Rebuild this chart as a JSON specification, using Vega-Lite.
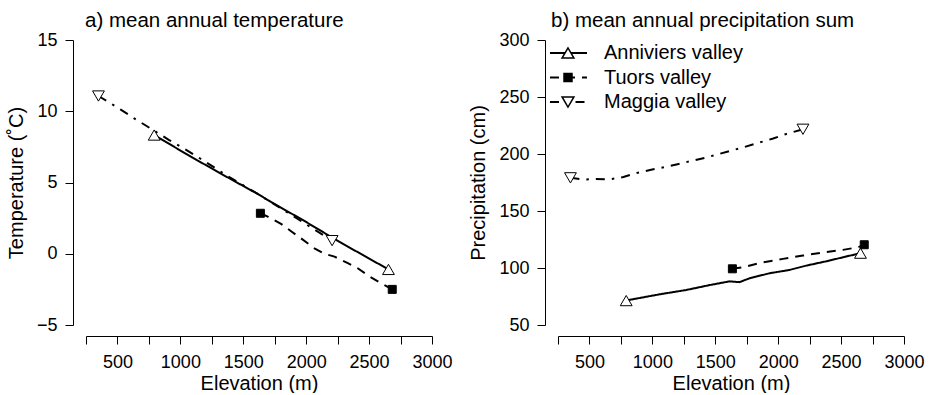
{
  "$schema": "https://vega.github.io/schema/vega-lite/v6.json",
  "padding": {"left": 6, "top": 10, "right": 5, "bottom": 0},
  "spacing": 126,
  "bounds": "flush",
  "config": {
    "font": "Liberation Sans",
    "view": {"stroke": null},
    "axis": {
      "domainColor": "black", "domainWidth": 1,
      "tickColor": "black", "tickWidth": 1, "tickSize": 8,
      "labelColor": "black", "labelFontSize": 18, "labelFont": "Liberation Sans", "labelOverlap": false, "labelFlush": false,
      "titleColor": "black", "titleFontSize": 20, "titleFontWeight": "normal", "titleFont": "Liberation Sans",
      "grid": false
    },
    "axisX": {"labelPadding": 9.5, "titlePadding": 1.5, "offset": 11},
    "axisY": {"labelPadding": 8, "titlePadding": 10, "offset": 13, "labelAngle": 0},
    "title": {"fontSize": 20.5, "fontWeight": "normal", "anchor": "start", "color": "black", "font": "Liberation Sans", "frame": "group"},
    "legend": {"labelFont": "Liberation Sans", "labelColor": "black", "labelFontSize": 20, "padding": 0}
  },
  "datasets": {
    "tempLine": [
      {"valley": "Anniviers valley", "elevation": 792, "value": 8.33},
      {"valley": "Anniviers valley", "elevation": 1057, "value": 6.95},
      {"valley": "Anniviers valley", "elevation": 1322, "value": 5.62},
      {"valley": "Anniviers valley", "elevation": 1614, "value": 4.2},
      {"valley": "Anniviers valley", "elevation": 1720, "value": 3.64},
      {"valley": "Anniviers valley", "elevation": 1986, "value": 2.3},
      {"valley": "Anniviers valley", "elevation": 2251, "value": 0.9},
      {"valley": "Anniviers valley", "elevation": 2654, "value": -1.1},
      {"valley": "Tuors valley", "elevation": 1636, "value": 2.84},
      {"valley": "Tuors valley", "elevation": 1694, "value": 2.6},
      {"valley": "Tuors valley", "elevation": 1800, "value": 2.1},
      {"valley": "Tuors valley", "elevation": 1880, "value": 1.58},
      {"valley": "Tuors valley", "elevation": 1959, "value": 1.08},
      {"valley": "Tuors valley", "elevation": 2066, "value": 0.38},
      {"valley": "Tuors valley", "elevation": 2145, "value": 0.0},
      {"valley": "Tuors valley", "elevation": 2225, "value": -0.2},
      {"valley": "Tuors valley", "elevation": 2331, "value": -0.66},
      {"valley": "Tuors valley", "elevation": 2410, "value": -1.02},
      {"valley": "Tuors valley", "elevation": 2504, "value": -1.6},
      {"valley": "Tuors valley", "elevation": 2623, "value": -2.2},
      {"valley": "Tuors valley", "elevation": 2684, "value": -2.5},
      {"valley": "Maggia valley", "elevation": 349, "value": 11.07},
      {"valley": "Maggia valley", "elevation": 420, "value": 10.7},
      {"valley": "Maggia valley", "elevation": 526, "value": 10.12},
      {"valley": "Maggia valley", "elevation": 633, "value": 9.5},
      {"valley": "Maggia valley", "elevation": 725, "value": 9.0},
      {"valley": "Maggia valley", "elevation": 911, "value": 7.98},
      {"valley": "Maggia valley", "elevation": 1004, "value": 7.51},
      {"valley": "Maggia valley", "elevation": 1177, "value": 6.58},
      {"valley": "Maggia valley", "elevation": 1376, "value": 5.45},
      {"valley": "Maggia valley", "elevation": 1600, "value": 4.28},
      {"valley": "Maggia valley", "elevation": 1946, "value": 2.37},
      {"valley": "Maggia valley", "elevation": 2206, "value": 0.92}
    ],
    "tempStations": [
      {"valley": "Anniviers valley", "elevation": 792, "value": 8.33},
      {"valley": "Anniviers valley", "elevation": 2654, "value": -1.1},
      {"valley": "Tuors valley", "elevation": 1636, "value": 2.84},
      {"valley": "Tuors valley", "elevation": 2684, "value": -2.5},
      {"valley": "Maggia valley", "elevation": 349, "value": 11.07},
      {"valley": "Maggia valley", "elevation": 2206, "value": 0.92}
    ],
    "precipLine": [
      {"valley": "Anniviers valley", "elevation": 792, "value": 71.4},
      {"valley": "Anniviers valley", "elevation": 845, "value": 72.6},
      {"valley": "Anniviers valley", "elevation": 1057, "value": 76.9},
      {"valley": "Anniviers valley", "elevation": 1269, "value": 80.7},
      {"valley": "Anniviers valley", "elevation": 1455, "value": 85.0},
      {"valley": "Anniviers valley", "elevation": 1614, "value": 88.3},
      {"valley": "Anniviers valley", "elevation": 1693, "value": 87.6},
      {"valley": "Anniviers valley", "elevation": 1773, "value": 91.0},
      {"valley": "Anniviers valley", "elevation": 1932, "value": 95.4},
      {"valley": "Anniviers valley", "elevation": 2091, "value": 98.3},
      {"valley": "Anniviers valley", "elevation": 2224, "value": 102.1},
      {"valley": "Anniviers valley", "elevation": 2383, "value": 105.9},
      {"valley": "Anniviers valley", "elevation": 2515, "value": 109.4},
      {"valley": "Anniviers valley", "elevation": 2654, "value": 113.0},
      {"valley": "Tuors valley", "elevation": 1636, "value": 99.3},
      {"valley": "Tuors valley", "elevation": 1720, "value": 100.6},
      {"valley": "Tuors valley", "elevation": 1879, "value": 105.0},
      {"valley": "Tuors valley", "elevation": 2038, "value": 108.0},
      {"valley": "Tuors valley", "elevation": 2197, "value": 110.9},
      {"valley": "Tuors valley", "elevation": 2356, "value": 113.6},
      {"valley": "Tuors valley", "elevation": 2515, "value": 115.9},
      {"valley": "Tuors valley", "elevation": 2634, "value": 118.2},
      {"valley": "Tuors valley", "elevation": 2684, "value": 120.4},
      {"valley": "Maggia valley", "elevation": 349, "value": 179.1},
      {"valley": "Maggia valley", "elevation": 450, "value": 177.6},
      {"valley": "Maggia valley", "elevation": 550, "value": 178.0},
      {"valley": "Maggia valley", "elevation": 660, "value": 177.8},
      {"valley": "Maggia valley", "elevation": 770, "value": 179.8},
      {"valley": "Maggia valley", "elevation": 870, "value": 183.2},
      {"valley": "Maggia valley", "elevation": 990, "value": 186.2},
      {"valley": "Maggia valley", "elevation": 1100, "value": 188.6},
      {"valley": "Maggia valley", "elevation": 1200, "value": 191.0},
      {"valley": "Maggia valley", "elevation": 1310, "value": 193.9},
      {"valley": "Maggia valley", "elevation": 1415, "value": 196.6},
      {"valley": "Maggia valley", "elevation": 1520, "value": 199.7},
      {"valley": "Maggia valley", "elevation": 1630, "value": 203.1},
      {"valley": "Maggia valley", "elevation": 1735, "value": 206.2},
      {"valley": "Maggia valley", "elevation": 1840, "value": 209.7},
      {"valley": "Maggia valley", "elevation": 1960, "value": 213.6},
      {"valley": "Maggia valley", "elevation": 2065, "value": 217.6},
      {"valley": "Maggia valley", "elevation": 2197, "value": 221.7}
    ],
    "precipStations": [
      {"valley": "Anniviers valley", "elevation": 792, "value": 71.4},
      {"valley": "Anniviers valley", "elevation": 2654, "value": 113.0},
      {"valley": "Tuors valley", "elevation": 1636, "value": 99.3},
      {"valley": "Tuors valley", "elevation": 2684, "value": 120.4},
      {"valley": "Maggia valley", "elevation": 349, "value": 179.1},
      {"valley": "Maggia valley", "elevation": 2197, "value": 221.7}
    ]
  },
  "resolve": {"scale": {"strokeDash": "independent", "shape": "independent", "fill": "independent", "size": "independent"}},
  "hconcat": [
    {
      "width": 346, "height": 285,
      "title": {"text": "a) mean annual temperature", "dx": -1, "offset": 0},
      "layer": [
        {
          "data": {"name": "tempLine"},
          "mark": {"type": "line", "color": "black", "strokeWidth": 2, "strokeCap": "butt"},
          "encoding": {
            "x": {"field": "elevation", "type": "quantitative", "scale": {"domain": [250, 3000], "nice": false, "zero": false},
                  "axis": {"title": "Elevation (m)", "values": [250, 500, 750, 1000, 1250, 1500, 1750, 2000, 2250, 2500, 2750, 3000], "tickCount": 24, "labelOverlap": false, "labelFlush": false,
                           "labelExpr": "datum.value % 500 == 0 ? format(datum.value, 'd') : ''"}},
            "y": {"field": "value", "type": "quantitative", "scale": {"domain": [-5, 15], "nice": false, "zero": false},
                  "axis": {"title": "Temperature (˚C)", "values": [-5, 0, 5, 10, 15], "tickCount": 10, "format": "d"}},
            "strokeDash": {"field": "valley", "type": "nominal", "legend": null,
                           "scale": {"domain": ["Anniviers valley", "Tuors valley", "Maggia valley"], "range": [[1, 0], [9, 7], [9, 7, 2.5, 7]]}}
          }
        },
        {
          "data": {"name": "tempStations"},
          "mark": {"type": "point", "filled": true, "stroke": "black", "strokeWidth": 1, "opacity": 1},
          "encoding": {
            "x": {"field": "elevation", "type": "quantitative"},
            "y": {"field": "value", "type": "quantitative"},
            "shape": {"field": "valley", "type": "nominal", "legend": null,
                      "scale": {"domain": ["Anniviers valley", "Tuors valley", "Maggia valley"], "range": ["triangle-up", "square", "triangle-down"]}},
            "fill": {"field": "valley", "type": "nominal", "legend": null,
                     "scale": {"domain": ["Anniviers valley", "Tuors valley", "Maggia valley"], "range": ["white", "black", "white"]}},
            "size": {"field": "valley", "type": "nominal", "legend": null,
                     "scale": {"type": "ordinal", "domain": ["Anniviers valley", "Tuors valley", "Maggia valley"], "range": [140, 64, 140]}}
          }
        }
      ]
    },
    {
      "width": 346, "height": 285,
      "title": {"text": "b) mean annual precipitation sum", "dx": -7, "offset": 0},
      "layer": [
        {
          "data": {"name": "precipLine"},
          "mark": {"type": "line", "color": "black", "strokeWidth": 2, "strokeCap": "butt"},
          "encoding": {
            "x": {"field": "elevation", "type": "quantitative", "scale": {"domain": [250, 3000], "nice": false, "zero": false},
                  "axis": {"title": "Elevation (m)", "values": [250, 500, 750, 1000, 1250, 1500, 1750, 2000, 2250, 2500, 2750, 3000], "tickCount": 24, "labelOverlap": false, "labelFlush": false,
                           "labelExpr": "datum.value % 500 == 0 ? format(datum.value, 'd') : ''"}},
            "y": {"field": "value", "type": "quantitative", "scale": {"domain": [50, 300], "nice": false, "zero": false},
                  "axis": {"title": "Precipitation (cm)", "values": [50, 100, 150, 200, 250, 300], "tickCount": 10, "format": "d"}},
            "strokeDash": {"field": "valley", "type": "nominal", "sort": ["Anniviers valley", "Tuors valley", "Maggia valley"],
                           "scale": {"range": [[1, 0], [9, 7], [9, 7, 2.5, 7]]},
                           "legend": {"orient": "none", "legendX": -9, "legendY": 3, "title": null, "symbolType": "stroke", "symbolSize": 1369,
                                      "symbolStrokeWidth": 2, "symbolStrokeColor": "black", "labelOffset": 16, "rowPadding": 4.5, "clipHeight": 20}}
          }
        },
        {
          "data": {"name": "precipStations"},
          "mark": {"type": "point", "filled": true, "stroke": "black", "strokeWidth": 1, "opacity": 1},
          "encoding": {
            "x": {"field": "elevation", "type": "quantitative"},
            "y": {"field": "value", "type": "quantitative"},
            "shape": {"field": "valley", "type": "nominal",
                      "scale": {"domain": ["Anniviers valley", "Tuors valley", "Maggia valley"], "range": ["triangle-up", "square", "triangle-down"]},
                      "legend": {"orient": "none", "legendX": 0, "legendY": 3, "title": null, "labelExpr": "''", "rowPadding": 4.5, "clipHeight": 20,
                                 "encode": {"symbols": {"update": {"stroke": {"value": "black"}, "strokeWidth": {"value": 1}, "opacity": {"value": 1}}}}}},
            "fill": {"field": "valley", "type": "nominal",
                     "scale": {"domain": ["Anniviers valley", "Tuors valley", "Maggia valley"], "range": ["white", "black", "white"]},
                     "legend": {"orient": "none", "legendX": 0, "legendY": 3, "title": null, "labelExpr": "''", "rowPadding": 4.5, "clipHeight": 20,
                                "encode": {"symbols": {"update": {"stroke": {"value": "black"}, "strokeWidth": {"value": 1}, "opacity": {"value": 1}}}}}},
            "size": {"field": "valley", "type": "nominal",
                     "scale": {"type": "ordinal", "domain": ["Anniviers valley", "Tuors valley", "Maggia valley"], "range": [140, 64, 140]},
                     "legend": {"orient": "none", "legendX": 0, "legendY": 3, "title": null, "labelExpr": "''", "rowPadding": 4.5, "clipHeight": 20,
                                "encode": {"symbols": {"update": {"stroke": {"value": "black"}, "strokeWidth": {"value": 1}, "opacity": {"value": 1}}}}}}
          }
        }
      ]
    }
  ]
}
